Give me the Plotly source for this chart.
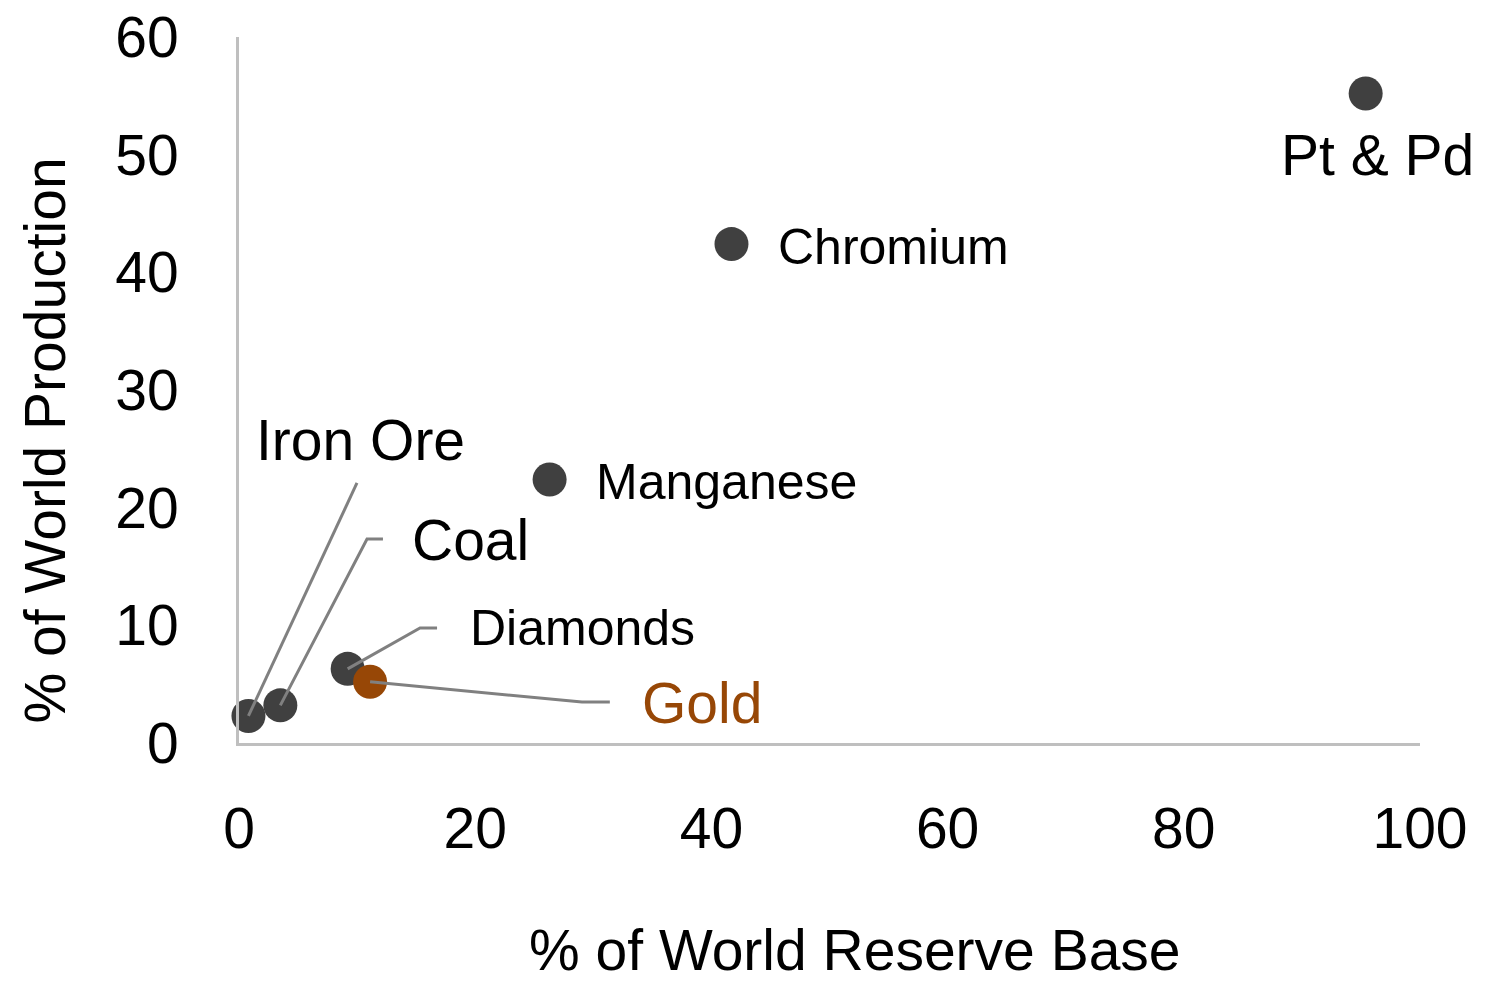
"""
Scatter of share of world production vs share of world reserve base
"""

import plotly.graph_objects as go

# data
minerals = ['Iron Ore', 'Coal', 'Diamonds', 'Gold', 'Manganese', 'Chromium', 'Pt & Pd']
reserve_share = [0.8, 3.5, 9.2, 11.1, 26.3, 41.7, 95.4]
production_share = [2.3, 3.2, 6.3, 5.2, 22.4, 42.4, 55.2]

x_ticks = [0, 20, 40, 60, 80, 100]
y_ticks = [0, 10, 20, 30, 40, 50, 60]

FONT = "Liberation Sans, Arial, sans-serif"
DARK = "#404040"
GOLD = "#974706"
LEADER = "#808080"
BIG = 57
SMALL = 50

# label placement: (x, y, xanchor, font size, xshift px) in data units
label_pos = {
    'Iron Ore': (1.27, 25.75, 'left', BIG, 0),
    'Coal': (14.5, 17.25, 'left', BIG, 0),
    'Diamonds': (19.4, 9.77, 'left', SMALL, 0),
    'Gold': (33.95, 3.4, 'left', BIG, 0),
    'Manganese': (30.1, 22.2, 'left', SMALL, 0),
    'Chromium': (45.5, 42.15, 'left', SMALL, 0),
    'Pt & Pd': (100, 50.0, 'right', BIG, 56),
}

# leader line bend points (data units), from the marker to the label
leaders = {
    'Iron Ore': [(9.99, 22.1)],
    'Coal': [(10.84, 17.34), (12.19, 17.34)],
    'Diamonds': [(15.33, 9.77), (16.77, 9.77)],
    'Gold': [(29.04, 3.48), (31.4, 3.48)],
}

fig = go.Figure()

for name, xv, yv in zip(minerals, reserve_share, production_share):
    color = GOLD if name == 'Gold' else DARK
    fig.add_trace(go.Scatter(
        x=[xv], y=[yv], mode='markers', name=name,
        marker=dict(size=34, color=color),
        cliponaxis=False, showlegend=False
    ))

    lx, ly, anchor, size, shift = label_pos[name]
    fig.add_annotation(
        x=lx, y=ly, text=name, showarrow=False,
        xanchor=anchor, yanchor='middle', xshift=shift,
        font=dict(family=FONT, size=size, color=GOLD if name == 'Gold' else 'black')
    )

    if name in leaders:
        pts = [(xv, yv)] + leaders[name]
        path = 'M ' + ' L '.join(f'{px},{py}' for px, py in pts)
        fig.add_shape(type='path', path=path, xref='x', yref='y',
                      line=dict(color=LEADER, width=3))

# axis titles
fig.add_annotation(
    x=0.522, y=-0.293, xref='paper', yref='paper', showarrow=False,
    xanchor='center', yanchor='middle',
    text='% of World Reserve Base', font=dict(family=FONT, size=BIG, color='black')
)
fig.add_annotation(
    x=-0.164, y=0.429, xref='paper', yref='paper', showarrow=False,
    xanchor='center', yanchor='middle',
    text='% of World Production', textangle=-90,
    font=dict(family=FONT, size=BIG, color='black')
)

fig.update_xaxes(
    range=[0, 100], tickvals=x_ticks, showgrid=False, zeroline=False,
    showline=True, linecolor='#BFBFBF', linewidth=3, automargin=False,
    ticks='', ticklabelstandoff=34, ticklabeloverflow='allow',
    tickfont=dict(family=FONT, size=BIG, color='black')
)
fig.update_yaxes(
    range=[0, 60], tickvals=y_ticks, showgrid=False, zeroline=False,
    showline=True, linecolor='#BFBFBF', linewidth=3, automargin=False,
    ticks='', ticklabelstandoff=46, ticklabeloverflow='allow',
    tickfont=dict(family=FONT, size=BIG, color='black')
)

# the page body adds 8px around the figure, so the figure is 16px smaller
fig.update_layout(
    width=1471, height=967,
    margin=dict(l=231, r=59, t=29, b=232),
    plot_bgcolor='white',
    paper_bgcolor='white',
    showlegend=False
)

fig.write_html("out.html")
